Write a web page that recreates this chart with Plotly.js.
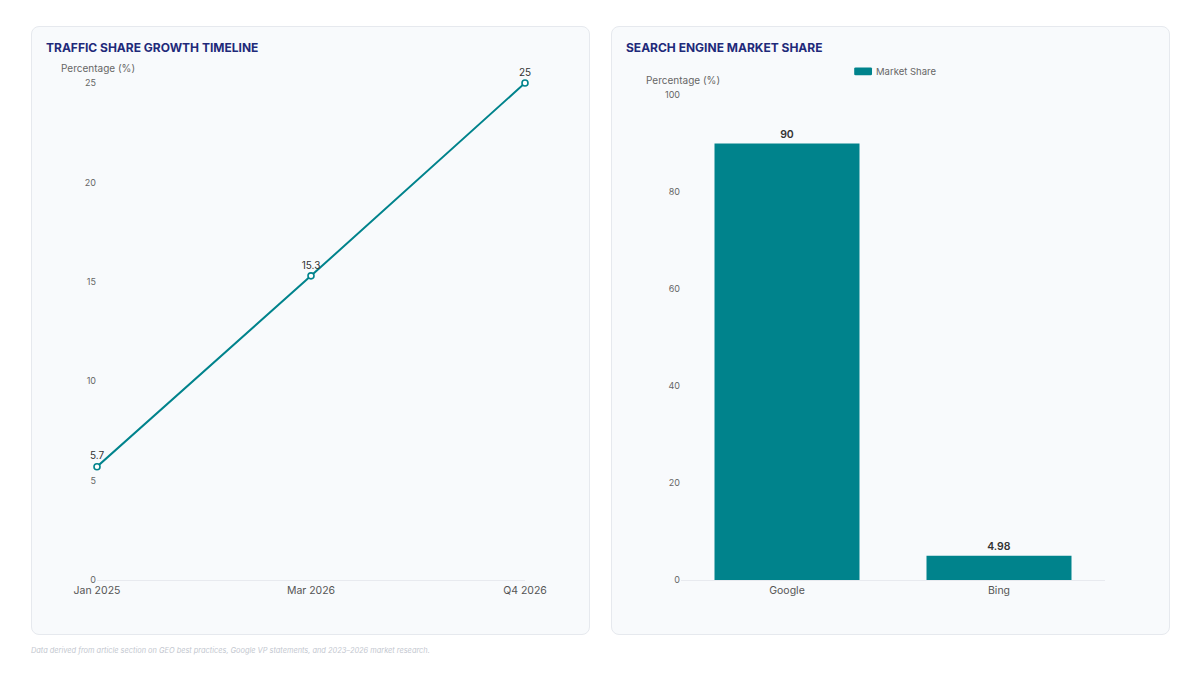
<!DOCTYPE html>
<html>
<head>
<meta charset="utf-8">
<script src="https://cdn.plot.ly/plotly-3.0.1.min.js"></script>
<style>
  html, body { margin: 0; padding: 0; background: #ffffff; font-family: Inter, "Noto Sans", sans-serif; }
  .card {
    position: absolute; top: 26px; width: 557px; height: 607px;
    background: #f8fafc; border: 1px solid #e6e9ee; border-radius: 8px;
  }
  .card .title {
    position: absolute; left: 14px; top: 13px; font-size: 12px; font-weight: 700;
    letter-spacing: 0px; color: #1f2a7a; pointer-events: none; z-index: 2;
  }
  .card .plot { position: absolute; left: 0; top: 0; width: 557px; height: 607px; }
  .note {
    position: absolute; left: 31px; top: 646px; font-size: 7.4px; font-style: italic; color: #c3c7cf;
  }
</style>
</head>
<body>
<div class="card" style="left:31px;">
  <div class="title">TRAFFIC SHARE GROWTH TIMELINE</div>
  <div class="plot" id="growth"></div>
</div>
<div class="card" style="left:611px;">
  <div class="title">SEARCH ENGINE MARKET SHARE</div>
  <div class="plot" id="share"></div>
</div>
<div class="note">Data derived from article section on GEO best practices, Google VP statements, and 2023–2026 market research.</div>

<script>
// timeline data
var periods = ['Jan 2025', 'Mar 2026', 'Q4 2026'];
var trafficShare = [5.7, 15.3, 25];

// market share data
var engines = ['Google', 'Bing'];
var marketShare = [90, 4.98];
var seriesName = 'Market Share';

var teal = '#00838c';
var tickFont = { family: 'Inter, sans-serif', size: 9, color: '#666' };
var catFont = { family: 'Inter, sans-serif', size: 10.5, color: '#555' };
var config = { displayModeBar: false, staticPlot: true };

Plotly.newPlot('growth', [{
  x: periods,
  y: trafficShare,
  type: 'scatter',
  mode: 'lines+markers+text',
  text: trafficShare.map(String),
  textposition: 'top center',
  textfont: { family: 'Inter, sans-serif', size: 10, color: '#333' },
  line: { color: teal, width: 2 },
  marker: { size: 6, color: '#ffffff', line: { color: teal, width: 1.6 } },
  cliponaxis: false,
  showlegend: false
}], {
  width: 557, height: 607,
  paper_bgcolor: 'rgba(0,0,0,0)',
  plot_bgcolor: 'rgba(0,0,0,0)',
  margin: { l: 65, r: 64, t: 56, b: 54 },
  xaxis: {
    type: 'category', range: [0, 2], showgrid: false, zeroline: false,
    showline: true, linecolor: '#e8eaef', linewidth: 1,
    tickfont: catFont, ticks: ''
  },
  yaxis: {
    range: [0, 25], dtick: 5, showgrid: false, zeroline: false, showline: false,
    tickfont: tickFont, ticks: ''
  },
  annotations: [{
    text: 'Percentage (%)', xref: 'paper', yref: 'paper', x: -0.088, y: 1.03,
    xanchor: 'left', yanchor: 'middle', showarrow: false,
    font: { family: 'Inter, sans-serif', size: 10, color: '#666' }
  }]
}, config);

// legend drawn as a small rounded swatch plus label (paper coords)
Plotly.newPlot('share', [{
  x: engines,
  y: marketShare,
  type: 'bar',
  name: seriesName,
  marker: { color: teal },
  text: marketShare.map(String),
  textposition: 'outside',
  textfont: { family: 'Inter, sans-serif', size: 10.5, color: '#333', weight: 600 },
  cliponaxis: false,
  showlegend: false
}], {
  width: 557, height: 607,
  paper_bgcolor: 'rgba(0,0,0,0)',
  plot_bgcolor: 'rgba(0,0,0,0)',
  margin: { l: 69, r: 64, t: 68, b: 54 },
  bargap: 0.316,
  xaxis: {
    showgrid: false, zeroline: false, showline: true, linecolor: '#e8eaef',
    tickfont: catFont, ticks: ''
  },
  yaxis: {
    range: [0, 100], dtick: 20, showgrid: false, zeroline: false, showline: false,
    tickfont: tickFont, ticks: ''
  },
  shapes: [{
    type: 'path', xref: 'paper', yref: 'paper', layer: 'above',
    path: 'M 0.4118,1.0568 L 0.4472,1.0568 Q 0.4505,1.0568 0.4505,1.0548 L 0.4505,1.0428 Q 0.4505,1.0408 0.4472,1.0408 L 0.4118,1.0408 Q 0.4085,1.0408 0.4085,1.0428 L 0.4085,1.0548 Q 0.4085,1.0568 0.4118,1.0568 Z',
    fillcolor: teal, line: { width: 0 }
  }],
  annotations: [{
    text: 'Percentage (%)', xref: 'paper', yref: 'paper', x: -0.088, y: 1.03,
    xanchor: 'left', yanchor: 'middle', showarrow: false,
    font: { family: 'Inter, sans-serif', size: 10, color: '#666' }
  }, {
    text: seriesName, xref: 'paper', yref: 'paper', x: 0.4553, y: 1.0488,
    xanchor: 'left', yanchor: 'middle', showarrow: false,
    font: { family: 'Inter, sans-serif', size: 9.5, color: '#666' }
  }]
}, config);
</script>
</body>
</html>
